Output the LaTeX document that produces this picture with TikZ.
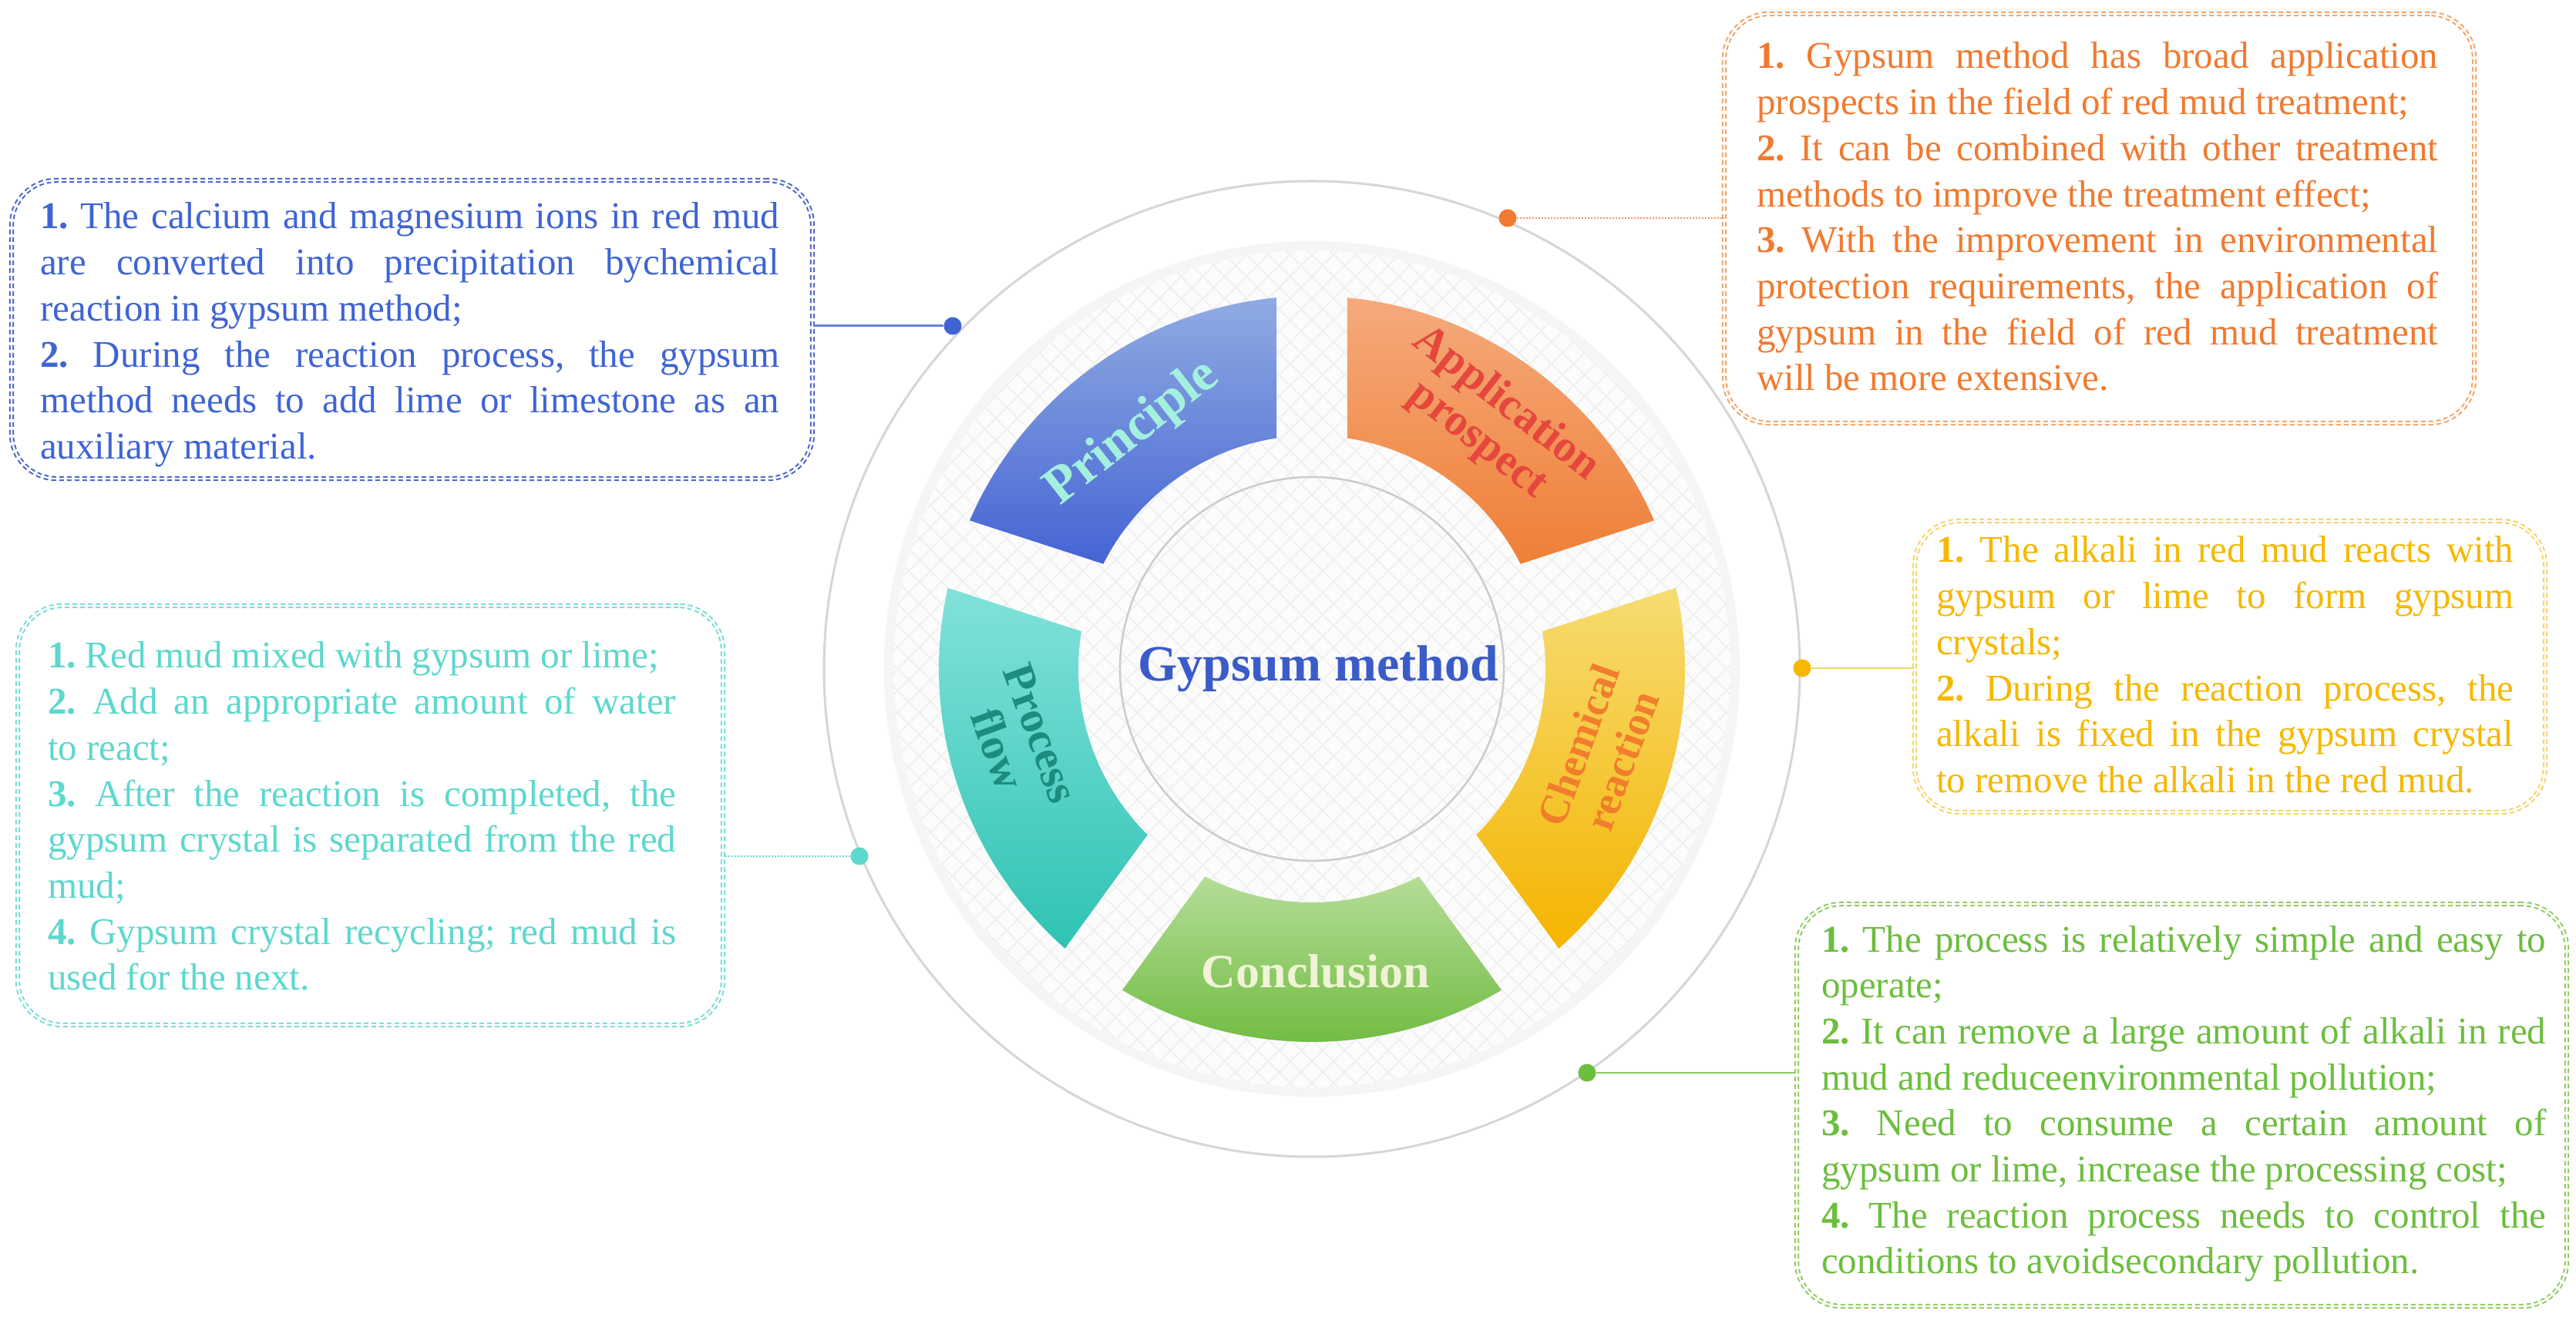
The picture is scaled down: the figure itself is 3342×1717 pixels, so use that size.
\documentclass[tikz,border=0pt]{standalone}
\usepackage{fontspec}
\setmainfont{Liberation Serif}
\newfontfamily\boxfont{Liberation Serif}
\usetikzlibrary{calc}

\definecolor{blueT}{HTML}{3F64D4}
\definecolor{blueL}{HTML}{4663C6}
\definecolor{orangeT}{HTML}{F07A30}
\definecolor{orangeL}{HTML}{F2A266}
\definecolor{yellowT}{HTML}{F5B800}
\definecolor{yellowL}{HTML}{F6D266}
\definecolor{cyanT}{HTML}{5DD8CD}
\definecolor{cyanL}{HTML}{74DDD5}
\definecolor{greenT}{HTML}{6CBE3E}
\definecolor{greenL}{HTML}{8DCB62}
\definecolor{pTop}{HTML}{90ABE2}
\definecolor{pBot}{HTML}{4464D4}
\definecolor{aTop}{HTML}{F5AA7C}
\definecolor{aBot}{HTML}{EF7F36}
\definecolor{cTop}{HTML}{F6DC72}
\definecolor{cBot}{HTML}{F5B400}
\definecolor{gTop}{HTML}{B5DD98}
\definecolor{gBot}{HTML}{6BB93B}
\definecolor{fTop}{HTML}{82E2DA}
\definecolor{fBot}{HTML}{2FC3B3}
\definecolor{princT}{HTML}{A4F0DF}
\definecolor{applT}{HTML}{E5473C}
\definecolor{chemT}{HTML}{F07E2C}
\definecolor{conclT}{HTML}{F0F3D6}
\definecolor{procT}{HTML}{1C8C7E}
\definecolor{gypT}{HTML}{3B5BC9}

\newdimen\linew
\newcommand\bx[1]{\frenchspacing\spaceskip=12pt plus 40pt minus 2pt\relax\linew=#1\relax}
\newcommand\jl[1]{\leavevmode\hbox to \linew{#1}}
\newcommand\nl[1]{\leavevmode\mbox{#1}}

\tikzset{
  infobox/.style={double, double distance=2.4pt, line width=2pt,
    dash pattern=on 6pt off 4pt, rounded corners=58pt, inner sep=0pt,
    anchor=north west},
  infotext/.style={font=\boxfont\fontsize{49}{59.7}\selectfont,
    align=left, anchor=base west, inner sep=0pt},
  dotnode/.style={circle, inner sep=0pt, minimum size=23pt},
  seglabel/.style={align=center, inner sep=0pt},
  hatch/.style={draw=black!6, line width=2pt},
}

\begin{document}
\begin{tikzpicture}[x=1pt,y=1pt]
\useasboundingbox (0,0) rectangle (3342,1717);
\fill[white] (0,0) rectangle (3342,1717);
\coordinate (C) at (1702,849);

% outer thin circle
\draw[black!16, line width=3pt] (C) circle (633);

% hatched disc
\begin{scope}
  \clip (C) circle (555);
  \fill[black!1] (C) circle (555);
  \begin{scope}[shift={(C)}, rotate=45]
    \foreach \k in {-560,-540,...,560} {
      \draw[hatch] (\k,-560) -- (\k,560);
      \draw[hatch] (-560,\k) -- (560,\k);
    }
  \end{scope}
  \draw[black!4, line width=18pt] (C) circle (552);
\end{scope}

% inner circle
\draw[black!20, line width=2.5pt] (C) circle (249);

% segments
\foreach \g/\tc/\bc in {90/pTop/pBot, 18/aTop/aBot, 306/cTop/cBot, 234/gTop/gBot, 162/fTop/fBot} {
  \path[top color=\tc, bottom color=\bc, shift={(C)}]
    ({\g+5.45}:484) arc[start angle=\g+5.45, end angle=\g+66.55, radius=484]
    -- ({\g+63.27}:303) arc[start angle=\g+63.27, end angle=\g+8.73, radius=303]
    -- cycle;
}

% segment labels
\node[seglabel, font=\fontsize{68}{68}\selectfont\bfseries, text=princT, rotate=38] (lP) at (1470,1155) {Principle};
\node[seglabel, font=\fontsize{58}{60}\selectfont\bfseries, text=applT, rotate=-38] (lA) at (1935,1169) {Application\\prospect};
\node[seglabel, font=\fontsize{54}{60}\selectfont\bfseries, text=chemT, rotate=70] (lC) at (2076,740) {Chemical\\reaction};
\node[seglabel, font=\fontsize{58}{60}\selectfont\bfseries, text=procT, rotate=-70] (lF) at (1322,755) {Process\\flow};
\node[seglabel, font=\fontsize{62}{62}\selectfont\bfseries, text=conclT] (lG) at (1707,457) {Conclusion};
\node[seglabel, font=\fontsize{66}{66}\selectfont\bfseries, text=gypT] (lM) at (1710,849) {Gypsum method};

% ---------- Principle box (blue)
\node[infobox, draw=blueL, minimum width=1039pt, minimum height=387pt] (boxP) at (14,1484) {};
\node[infotext, text width=959pt, text=blueT] (txtP) at (52,1420) {\bx{959pt}%
\jl{\textbf{1.} The calcium and magnesium ions in red mud}\\
\jl{are converted into precipitation bychemical}\\
\nl{reaction in gypsum method;}\\
\jl{\textbf{2.} During the reaction process, the gypsum}\\
\jl{method needs to add lime or limestone as an}\\
\nl{auxiliary material.}};
\node[dotnode, fill=blueT] (dP) at (1236,1294) {};
\draw[blueT!80, line width=3pt] (dP) -- (dP -| boxP.east);

% ---------- Application box (orange)
\node[infobox, draw=orangeL, minimum width=973pt, minimum height=531pt] (boxA) at (2236,1700) {};
\node[infotext, text width=884pt, text=orangeT] (txtA) at (2279,1628) {\bx{884pt}%
\jl{\textbf{1.} Gypsum method has broad application}\\
\nl{prospects in the field of red mud treatment;}\\
\jl{\textbf{2.} It can be combined with other treatment}\\
\nl{methods to improve the treatment effect;}\\
\jl{\textbf{3.} With the improvement in environmental}\\
\jl{protection requirements, the application of}\\
\jl{gypsum in the field of red mud treatment}\\
\nl{will be more extensive.}};
\node[dotnode, fill=orangeT] (dA) at (1956,1434) {};
\draw[orangeT!80, line width=2.5pt, dash pattern=on 2pt off 2pt] (dA) -- (dA -| boxA.west);

% ---------- Chemical reaction box (yellow)
\node[infobox, draw=yellowL, minimum width=818pt, minimum height=378pt] (boxC) at (2483,1042) {};
\node[infotext, text width=749pt, text=yellowT] (txtC) at (2512,987) {\bx{749pt}%
\jl{\textbf{1.} The alkali in red mud reacts with}\\
\jl{gypsum or lime to form gypsum}\\
\nl{crystals;}\\
\jl{\textbf{2.} During the reaction process, the}\\
\jl{alkali is fixed in the gypsum crystal}\\
\nl{to remove the alkali in the red mud.}};
\node[dotnode, fill=yellowT] (dC) at (2338,850) {};
\draw[yellowL, line width=2.5pt] (dC) -- (dC -| boxC.west);

% ---------- Process flow box (cyan)
\node[infobox, draw=cyanL, minimum width=915pt, minimum height=544pt] (boxF) at (22,932) {};
\node[infotext, text width=815pt, text=cyanT] (txtF) at (62,850) {\bx{815pt}%
\nl{\textbf{1.} Red mud mixed with gypsum or lime;}\\
\jl{\textbf{2.} Add an appropriate amount of water}\\
\nl{to react;}\\
\jl{\textbf{3.} After the reaction is completed, the}\\
\jl{gypsum crystal is separated from the red}\\
\nl{mud;}\\
\jl{\textbf{4.} Gypsum crystal recycling; red mud is}\\
\nl{used for the next.}};
\node[dotnode, fill=cyanT] (dF) at (1115,606) {};
\draw[cyanT, line width=2.5pt, dash pattern=on 2pt off 2pt] (dF) -- (dF -| boxF.east);

% ---------- Conclusion box (green)
\node[infobox, draw=greenL, minimum width=999pt, minimum height=522pt] (boxG) at (2330,545) {};
\node[infotext, text width=940pt, text=greenT] (txtG) at (2363,482) {\bx{940pt}%
\jl{\textbf{1.} The process is relatively simple and easy to}\\
\nl{operate;}\\
\jl{\textbf{2.} It can remove a large amount of alkali in red}\\
\nl{mud and reduceenvironmental pollution;}\\
\jl{\textbf{3.} Need to consume a certain amount of}\\
\nl{gypsum or lime, increase the processing cost;}\\
\jl{\textbf{4.} The reaction process needs to control the}\\
\nl{conditions to avoidsecondary pollution.}};
\node[dotnode, fill=greenT] (dG) at (2059,325) {};
\draw[greenL, line width=2.5pt] (dG) -- (dG -| boxG.west);
\end{tikzpicture}
\end{document}
